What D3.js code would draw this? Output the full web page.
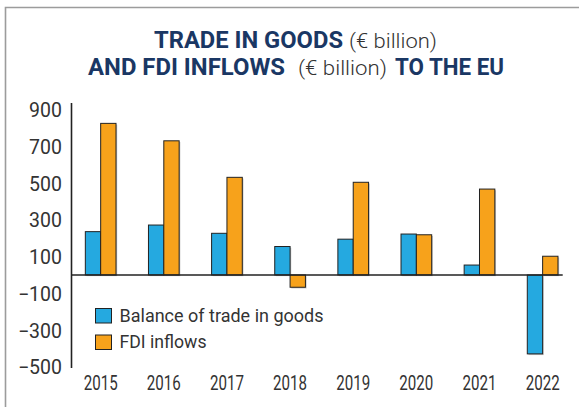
<!DOCTYPE html>
<html>
<head>
<meta charset="utf-8">
<script src="https://cdn.jsdelivr.net/npm/d3@7"></script>
<style>
  html, body { margin: 0; padding: 0; background: #fff; }
  svg { display: block; }
</style>
</head>
<body>
<svg id="chart" width="579" height="407"></svg>
<script>
// Years on the x axis
const years = ["2015", "2016", "2017", "2018", "2019", "2020", "2021", "2022"];
// Balance of trade in goods, € billion
const tradeBalance = [236, 272, 227, 155, 195, 223, 54, -430];
// FDI inflows to the EU, € billion
const fdiInflows = [826, 731, 532, -67, 505, 219, 468, 102];
// Labelled y-axis values
const yTicks = [900, 700, 500, 300, 100, -100, -300, -500];
const seriesNames = ["Balance of trade in goods", "FDI inflows"];
const seriesKeys = ["balance", "fdi"];

const colors = { balance: "#25a9e0", fdi: "#f7a21b" };
const navy = "#1a3764";
const ink = "#222";

const rows = years.map((y, i) => ({ year: y, balance: tradeBalance[i], fdi: fdiInflows[i] }));

const svg = d3.select("#chart");

// Frame
svg.append("path")
  .attr("d", "M5.5,407 V7.5 H579")
  .attr("fill", "none")
  .attr("stroke", "#9c9c9c")
  .attr("stroke-width", 1.6);

// Title: bold parts in navy, units in grey
const titleParts = [
  { t: "TRADE IN GOODS", x: 154, w: 189, y: 48, bold: true },
  { t: "(€ billion)", x: 349, w: 88, y: 48, bold: false },
  { t: "AND FDI INFLOWS", x: 88, w: 197, y: 75, bold: true },
  { t: "(€ billion)", x: 298, w: 89, y: 75, bold: false },
  { t: "TO THE EU", x: 395, w: 109, y: 75, bold: true }
];
svg.append("g").selectAll("text")
  .data(titleParts)
  .join("text")
  .attr("x", d => d.x)
  .attr("y", d => d.y)
  .attr("textLength", d => d.w)
  .attr("lengthAdjust", "spacingAndGlyphs")
  .attr("font-family", "Roboto, sans-serif")
  .attr("font-weight", d => d.bold ? 700 : 300)
  .attr("font-size", d => d.bold ? 23 : 21)
  .attr("fill", d => d.bold ? navy : "#333")
  .text(d => d.t);

// Scales
const y = d3.scaleLinear().domain([-507, 937]).range([368, 103]);
const x = d3.scaleBand().domain(years).range([69.1, 574.2])
  .paddingInner(0.514).paddingOuter(0.257);
const xs = d3.scaleBand().domain(seriesKeys).range([0, x.bandwidth()]);

// Bars with a faint shadow
const groups = svg.append("g").selectAll("g")
  .data(rows)
  .join("g")
  .attr("transform", d => `translate(${x(d.year)},0)`);

const bars = groups.selectAll("g.bar")
  .data(d => seriesKeys.map(k => ({ key: k, value: d[k] })))
  .join("g")
  .attr("class", "bar");

bars.append("rect")
  .attr("x", d => xs(d.key) + 1.2)
  .attr("y", d => Math.min(y(d.value), y(0)) + 1.2)
  .attr("width", xs.bandwidth())
  .attr("height", d => Math.abs(y(d.value) - y(0)))
  .attr("fill", "#c8c8c8");

bars.append("rect")
  .attr("x", d => xs(d.key))
  .attr("y", d => Math.min(y(d.value), y(0)))
  .attr("width", xs.bandwidth())
  .attr("height", d => Math.abs(y(d.value) - y(0)))
  .attr("fill", d => colors[d.key])
  .attr("stroke", ink)
  .attr("stroke-width", 1);

// Zero line
svg.append("line")
  .attr("x1", 71.5).attr("x2", 562.7)
  .attr("y1", y(0)).attr("y2", y(0))
  .attr("stroke", ink)
  .attr("stroke-width", 1.5);

// Y axis: labels from the axis generator, vertical rule drawn over the range
const yAxis = svg.append("g")
  .attr("transform", "translate(71,0)")
  .call(d3.axisLeft(y).tickValues(yTicks).tickSize(0).tickSizeOuter(0).tickPadding(9));
yAxis.select(".domain").remove();
yAxis.selectAll("text")
  .attr("font-family", "Roboto, sans-serif")
  .attr("font-weight", 400)
  .attr("font-size", 19.5)
  .attr("fill", "#333")
  .attr("dy", "0.36em");
svg.append("line")
  .attr("x1", 71.5).attr("x2", 71.5)
  .attr("y1", y.range()[0]).attr("y2", y.range()[1])
  .attr("stroke", ink)
  .attr("stroke-width", 1.6);

// X axis labels
const xAxis = svg.append("g")
  .attr("transform", "translate(0,389.5)")
  .call(d3.axisBottom(x).tickSize(0));
xAxis.select(".domain").remove();
xAxis.selectAll("text")
  .attr("y", 0).attr("dy", 0)
  .attr("textLength", 34)
  .attr("lengthAdjust", "spacingAndGlyphs")
  .attr("font-family", "Roboto, sans-serif")
  .attr("font-weight", 400)
  .attr("font-size", 21)
  .attr("fill", "#333");

// Legend
const legend = svg.append("g").selectAll("g")
  .data(seriesKeys.map((k, i) => ({ key: k, name: seriesNames[i], i })))
  .join("g")
  .attr("transform", d => `translate(95.5,${308.5 + d.i * 26.5})`);
legend.append("rect")
  .attr("width", 16).attr("height", 14.5)
  .attr("fill", d => colors[d.key])
  .attr("stroke", ink).attr("stroke-width", 1);
legend.append("text")
  .attr("x", 24).attr("y", 13.3)
  .attr("textLength", d => d.i === 0 ? 204 : 87)
  .attr("lengthAdjust", "spacingAndGlyphs")
  .attr("font-family", "Roboto, sans-serif")
  .attr("font-weight", 400)
  .attr("font-size", 18.5)
  .attr("fill", "#333")
  .text(d => d.name);
</script>
</body>
</html>
